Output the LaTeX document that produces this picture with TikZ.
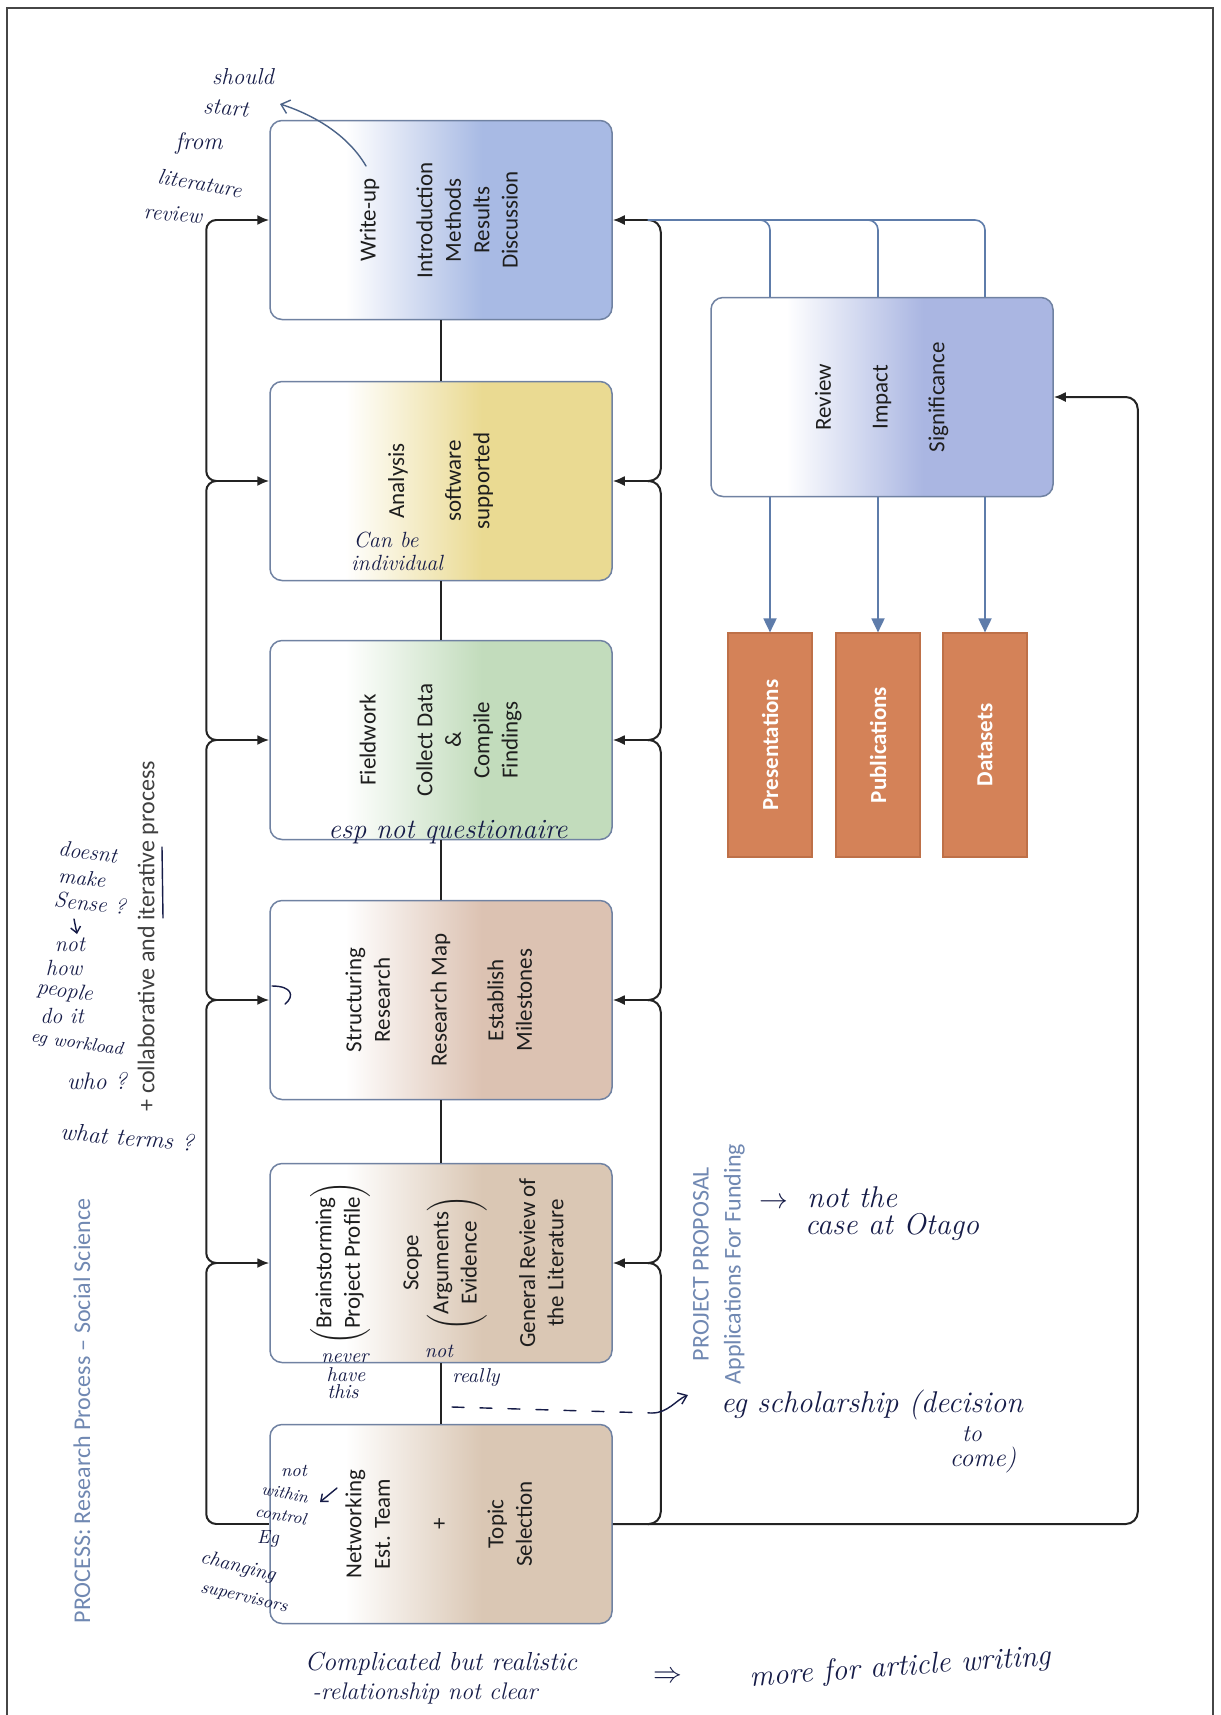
\documentclass[tikz,border=0pt]{standalone}
\usepackage{fontspec}
\usepackage{graphicx}
\usepackage{tikz}
\usetikzlibrary{arrows.meta,calc}
\newfontfamily\boxfont{Carlito}
\definecolor{RpEdge}{RGB}{112,130,162}
\definecolor{RpInk}{RGB}{30,30,30}
\definecolor{RpLink}{RGB}{35,35,35}
\definecolor{RpBlue}{RGB}{168,186,228}
\definecolor{RpYellow}{RGB}{234,218,146}
\definecolor{RpGreen}{RGB}{194,220,188}
\definecolor{RpRose}{RGB}{220,194,178}
\definecolor{RpTan}{RGB}{218,199,180}
\definecolor{RpLavender}{RGB}{170,182,226}
\definecolor{RpOrange}{RGB}{212,130,88}
\definecolor{RpOrangeEdge}{RGB}{190,112,72}
\definecolor{RpSteel}{RGB}{94,124,170}
\definecolor{RpCaption}{RGB}{112,136,178}
\definecolor{RpFrame}{RGB}{70,70,70}
\definecolor{HandInk}{RGB}{22,28,72}
\colorlet{stagecol}{white}
\pgfdeclarehorizontalshading[stagecol]{stagefade}{100bp}{color(0bp)=(white); color(36bp)=(white); color(56bp)=(stagecol); color(100bp)=(stagecol)}
\newcommand{\vtext}[1]{\rotatebox{90}{\begin{tabular}{@{}c@{}}#1\end{tabular}}}
\newcommand{\stagefont}{\boxfont\fontsize{11.5}{14.2}\selectfont}
\tikzset{
  rp/stage/.style={
    draw=RpEdge,
    line width=0.75pt,
    rounded corners=6pt,
    shade,
    shading=stagefade,
    minimum width=171pt,
    minimum height=99.5pt,
    inner sep=0pt,
    text=RpInk,
    font=\stagefont
  },
  rp/tint/.code={\colorlet{stagecol}{#1}},
  rp/output/.style={
    draw=RpOrangeEdge,
    line width=0.6pt,
    fill=RpOrange,
    minimum width=42pt,
    minimum height=112pt,
    inner sep=0pt,
    text=white,
    font=\boxfont\bfseries\fontsize{11.5}{14}\selectfont
  },
  rp/stem/.style={line width=0.9pt, draw=RpLink},
  rp/link/.style={line width=1pt, draw=RpLink},
  rp/arrow/.style={-{Latex[length=6pt,width=5pt]}, line width=1pt, draw=RpLink},
  rp/revline/.style={line width=0.8pt, draw=RpSteel},
  rp/revarrow/.style={-{Triangle[length=7pt,width=6.5pt]}, line width=0.9pt, draw=RpSteel, fill=RpSteel},
  rp/side/.style={rotate=90, align=center, inner sep=0pt, font=\boxfont\fontsize{12}{16}\selectfont},
  rp/hand/.style={text=HandInk, inner sep=0pt, font=\itshape\fontsize{#1}{#1}\selectfont},
  rp/hand/.default=11,
  rp/handline/.style={draw=HandInk, line width=0.7pt, line cap=round}
}

\begin{document}
\begin{tikzpicture}[x=0.5pt,y=-0.5pt]
  \path[use as bounding box, fill=white] (0,0) rectangle (1221,1715);
  \draw[RpFrame, line width=1.1pt] (7,1715) |- (1213,8) -- (1213,1715);

  \node[rp/stage, rp/tint=RpBlue] (wu) at (441,220) {\vtext{Write-up\\ \\Introduction\\Methods\\Results\\Discussion}};
  \node[rp/stage, rp/tint=RpYellow] (ana) at (441,481) {\vtext{Analysis\\ \\software\\supported}};
  \node[rp/stage, rp/tint=RpGreen] (field) at (441,740) {\vtext{Fieldwork\\ \\Collect Data\\ \&\\Compile\\Findings}};
  \node[rp/stage, rp/tint=RpRose] (struct) at (441,1000) {\vtext{Structuring\\Research\\ \\Research Map\\ \\Establish\\Milestones}};
  \node[rp/stage, rp/tint=RpTan] (brain) at (441,1263) {\vtext{$\left(\begin{tabular}{@{}c@{}}Brainstorming\\Project Profile\end{tabular}\right)$\\ \\Scope\\$\left(\begin{tabular}{@{}c@{}}Arguments\\Evidence\end{tabular}\right)$\\ \\General Review of\\the Literature}};
  \node[rp/stage, rp/tint=RpTan] (net) at (441,1524) {\vtext{Networking\\Est. Team\\ \\+\\ \\Topic\\Selection}};

  \node[rp/stage, rp/tint=RpLavender] (review) at (882,397) {\vtext{Review\\ \\Impact\\ \\Significance}};
  \node[rp/output] (pres) at (770,745) {\rotatebox{90}{Presentations}};
  \node[rp/output] (pub) at (878,745) {\rotatebox{90}{Publications}};
  \node[rp/output] (data) at (985,745) {\rotatebox{90}{Datasets}};

  \foreach \a/\b in {wu/ana,ana/field,field/struct,struct/brain,brain/net}{
    \draw[rp/stem] (\a.south) -- (\b.north);
    \draw[rp/link, rounded corners=5pt] ($(\a.west)+(-53,0)$) -| ($(\a.west)!0.5!(\b.west)+(-63,0)$) |- ($(\b.west)+(-53,0)$);
    \draw[rp/link, rounded corners=6pt] ($(\a.east)+(35,0)$) -| ($(\a.east)!0.5!(\b.east)+(48,0)$) |- ($(\b.east)+(35,0)$);
  }
  \foreach \a in {wu,ana,field,struct,brain}{
    \draw[rp/arrow] ($(\a.west)+(-53,0)$) -- (\a.west);
    \draw[rp/arrow] ($(\a.east)+(35,0)$) -- (\a.east);
  }
  \draw[rp/link] ($(net.west)+(-53,0)$) -- (net.west);
  \draw[rp/arrow, rounded corners=6pt] (net.east) -| ($(review.east)+(84,0)$) -- (review.east);

  \foreach \o in {pres,pub,data}{
    \draw[rp/revline, rounded corners=5pt] (review.north -| \o.north) |- ($(wu.east)+(35,0)$);
    \draw[rp/revarrow] (review.south -| \o.north) -- (\o.north);
  }

  \node[rp/side, text=RpCaption] (title) at (82,1411) {PROCESS: Research Process \textendash{} Social Science};
  \node[rp/side, text=RpInk!85] (collab) at (148,936) {+ collaborative and iterative process};
  \node[rp/side, text=RpCaption] (proposal) at (719,1264) {PROJECT PROPOSAL\\Applications For Funding};

  \node[rp/hand=11.5] (hwShould) at (243,77) {should};
  \node[rp/hand=11.5, rotate=-5] (hwStart) at (226,108) {start};
  \node[rp/hand=12] (hwFrom) at (199,143) {from};
  \node[rp/hand=11, rotate=-10] (hwLit) at (200,183) {literature};
  \node[rp/hand=11, rotate=-4] (hwReview) at (173,214) {review};
  \draw[rp/handline, draw=RpSteel!80!black, -{Straight Barb[length=4pt,width=7pt]}] (366,166) .. controls (345,130) and (305,112) .. (280,104);

  \node[rp/hand=11] (hwCan) at (386,540) {Can be};
  \node[rp/hand=11] (hwIndiv) at (397,563) {individual};
  \node[rp/hand=14] (hwEsp) at (448,832) {esp not questionaire};
  \draw[rp/handline] (272,986) .. controls (292,986) and (295,996) .. (285,1004);

  \draw[rp/handline] (162,847) -- (163,918);
  \node[rp/hand=11, rotate=-7] (hwDoesnt) at (88,852) {doesnt};
  \node[rp/hand=10.5, rotate=-6] (hwMake) at (82,878) {make};
  \node[rp/hand=11, rotate=-6] (hwSense) at (90,903) {Sense ?};
  \draw[rp/handline, -{Straight Barb[length=3pt,width=5pt]}] (74,919) -- (77,934);
  \node[rp/hand=11] (hwNot) at (70,945) {not};
  \node[rp/hand=11] (hwHow) at (64,968) {how};
  \node[rp/hand=11, rotate=-8] (hwPeople) at (65,992) {people};
  \node[rp/hand=11] (hwDoit) at (62,1016) {do it};
  \node[rp/hand=9, rotate=-8] (hwWorkload) at (77,1044) {eg workload};
  \node[rp/hand=12] (hwWho) at (97,1081) {who ?};
  \node[rp/hand=12, rotate=-5] (hwTerms) at (127,1137) {what terms ?};

  \node[rp/hand=10] (hwNever) at (345,1358) {never};
  \node[rp/hand=10] (hwHave) at (346,1375) {have};
  \node[rp/hand=10] (hwThis) at (343,1392) {this};
  \node[rp/hand=10] (hwNot2) at (439,1351) {not};
  \node[rp/hand=10] (hwReally) at (476,1378) {really};
  \draw[rp/handline, dash pattern=on 6pt off 8pt] (452,1407) -- (652,1413);
  \draw[rp/handline, -{Straight Barb[length=4pt,width=6pt]}] (652,1413) .. controls (668,1413) and (676,1400) .. (688,1395);
  \node[rp/hand=15] (hwScholar) at (872,1405) {eg scholarship (decision};
  \node[rp/hand=12] (hwTo) at (972,1434) {to};
  \node[rp/hand=13] (hwCome) at (983,1460) {come)};

  \node[rp/hand=14] (hwArrow) at (774,1203) {$\rightarrow$};
  \node[rp/hand=15] (hwNotThe) at (852,1197) {not the};
  \node[rp/hand=15] (hwOtago) at (892,1227) {case at Otago};

  \node[rp/hand=9] (hwNot3) at (294,1471) {not};
  \node[rp/hand=8.5, rotate=-10] (hwWithin) at (285,1493) {within};
  \node[rp/hand=8.5, rotate=-10] (hwControl) at (281,1515) {control};
  \draw[rp/handline, -{Straight Barb[length=3pt,width=5pt]}] (337,1488) -- (320,1502);
  \node[rp/hand=9.5] (hwEg) at (268,1539) {Eg};
  \node[rp/hand=10, rotate=-14] (hwChanging) at (238,1567) {changing};
  \node[rp/hand=9, rotate=-13] (hwSuper) at (244,1598) {supervisors};

  \node[rp/hand=13] (hwComplicated) at (441,1664) {Complicated but realistic};
  \node[rp/hand=12] (hwRelation) at (425,1693) {-relationship not clear};
  \node[rp/hand=14] (hwImplies) at (668,1677) {$\Rightarrow$};
  \node[rp/hand=15, rotate=4] (hwArticle) at (900,1668) {more for article writing};
\end{tikzpicture}
\end{document}
